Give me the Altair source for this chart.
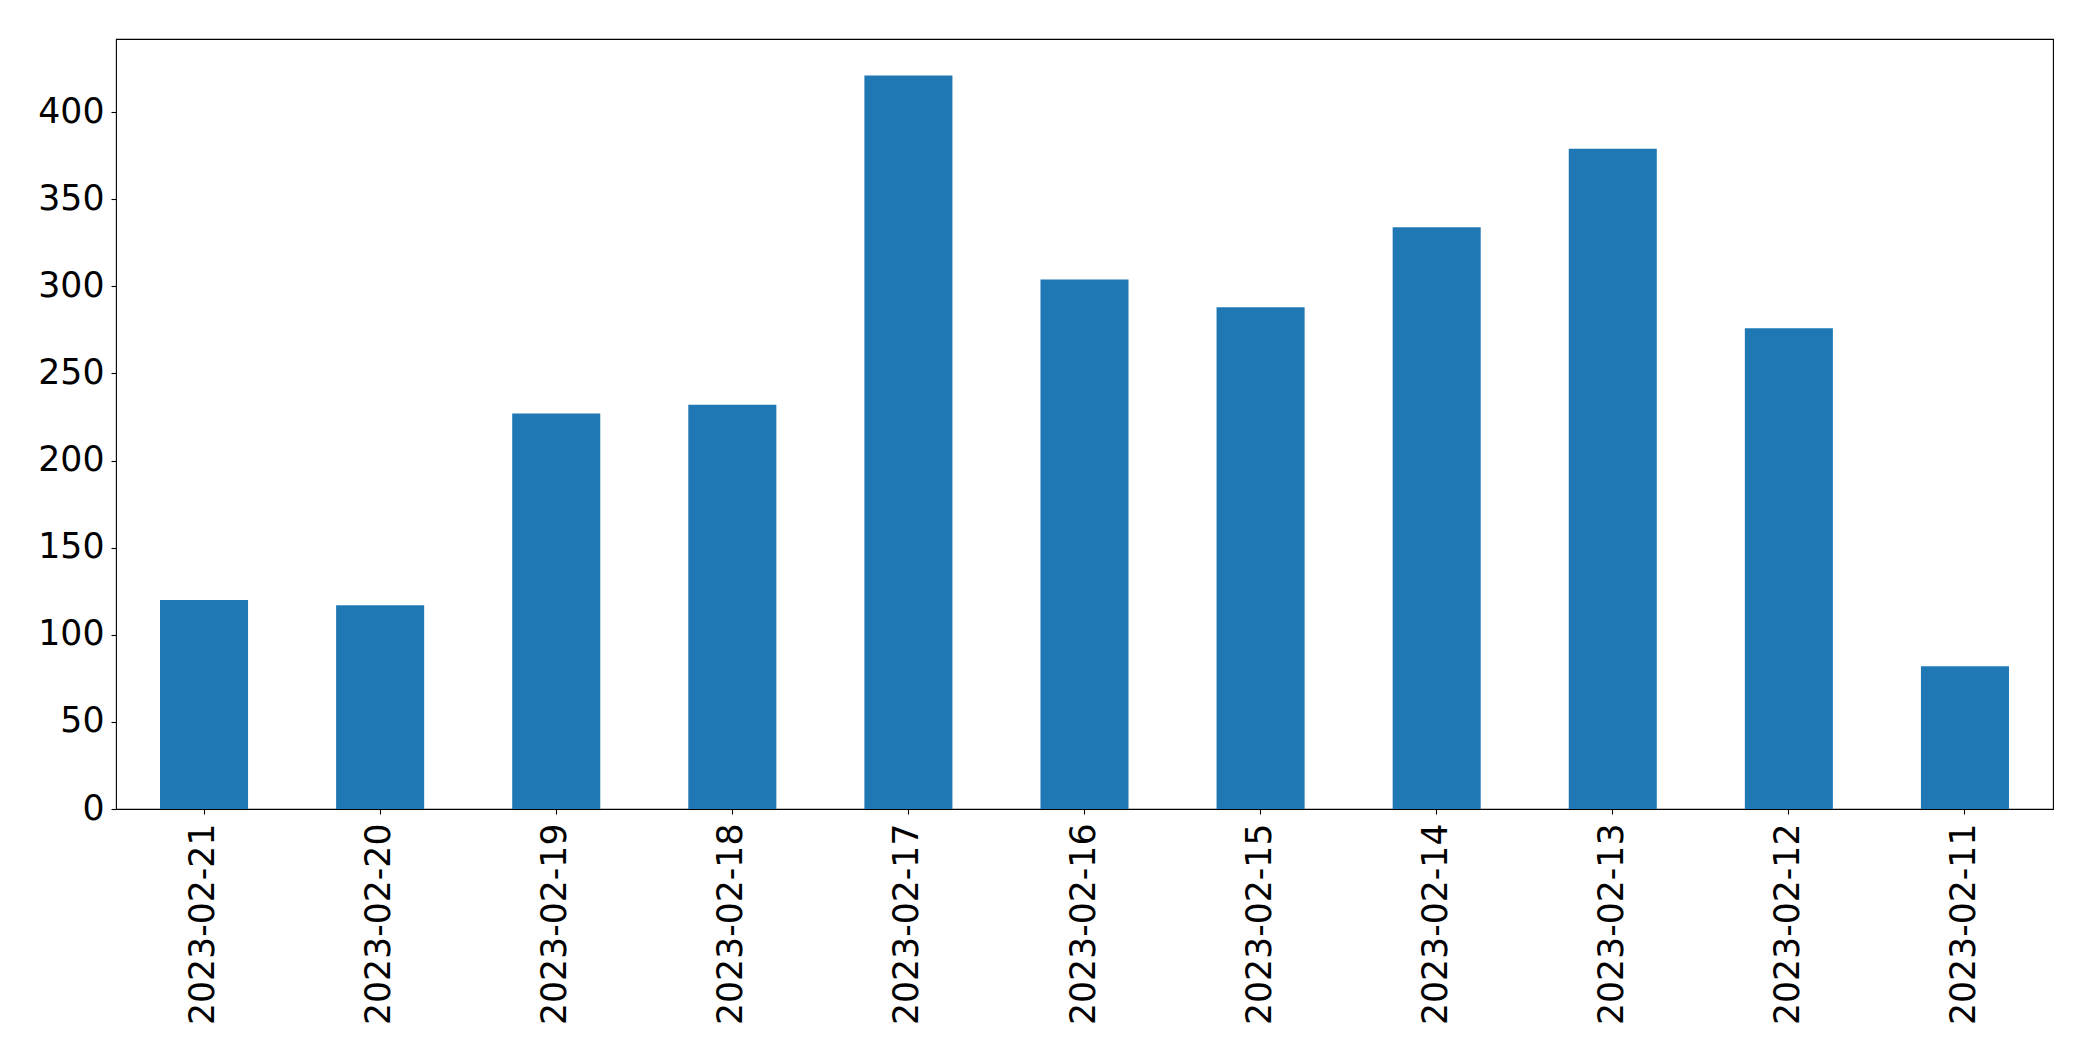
import altair as alt
import pandas as pd

dates = ["2023-02-21", "2023-02-20", "2023-02-19", "2023-02-18", "2023-02-17",
         "2023-02-16", "2023-02-15", "2023-02-14", "2023-02-13", "2023-02-12",
         "2023-02-11"]
counts = [120, 117, 227, 232, 421, 304, 288, 334, 379, 276, 82]
y_ticks = [0, 50, 100, 150, 200, 250, 300, 350, 400]

df = pd.DataFrame({"date": dates, "count": counts})

font = "DejaVu Sans"

chart = alt.Chart(df).mark_bar(color="#1f77b4").encode(
    x=alt.X("date:N", sort=None, title=None,
            scale=alt.Scale(paddingInner=0.5, paddingOuter=0.25),
            axis=alt.Axis(labelAngle=270, labelAlign="right", labelBaseline="middle",
                          labelFontSize=34.7, labelFont=font, labelColor="black",
                          labelLimit=0, labelOverlap=False,
                          tickColor="black", tickSize=5, tickWidth=1.1,
                          labelPadding=9, domain=False, grid=False)),
    y=alt.Y("count:Q", title=None,
            scale=alt.Scale(domain=[0, 442], nice=False, zero=True),
            axis=alt.Axis(values=y_ticks, labelFontSize=34.7, labelFont=font,
                          labelColor="black", labelLimit=0, tickColor="black", tickSize=5,
                          tickWidth=1.1, labelPadding=7, domain=False, grid=False)),
).properties(
    width=1937, height=770,
    autosize=alt.AutoSizeParams(type="none"),
    padding={"left": 116, "top": 39, "right": 40, "bottom": 252},
).configure(
    background="white"
).configure_view(
    stroke="black", strokeWidth=1.1, fill="white"
)

chart.save("out.html", embed_options={"renderer": "svg", "actions": False})
